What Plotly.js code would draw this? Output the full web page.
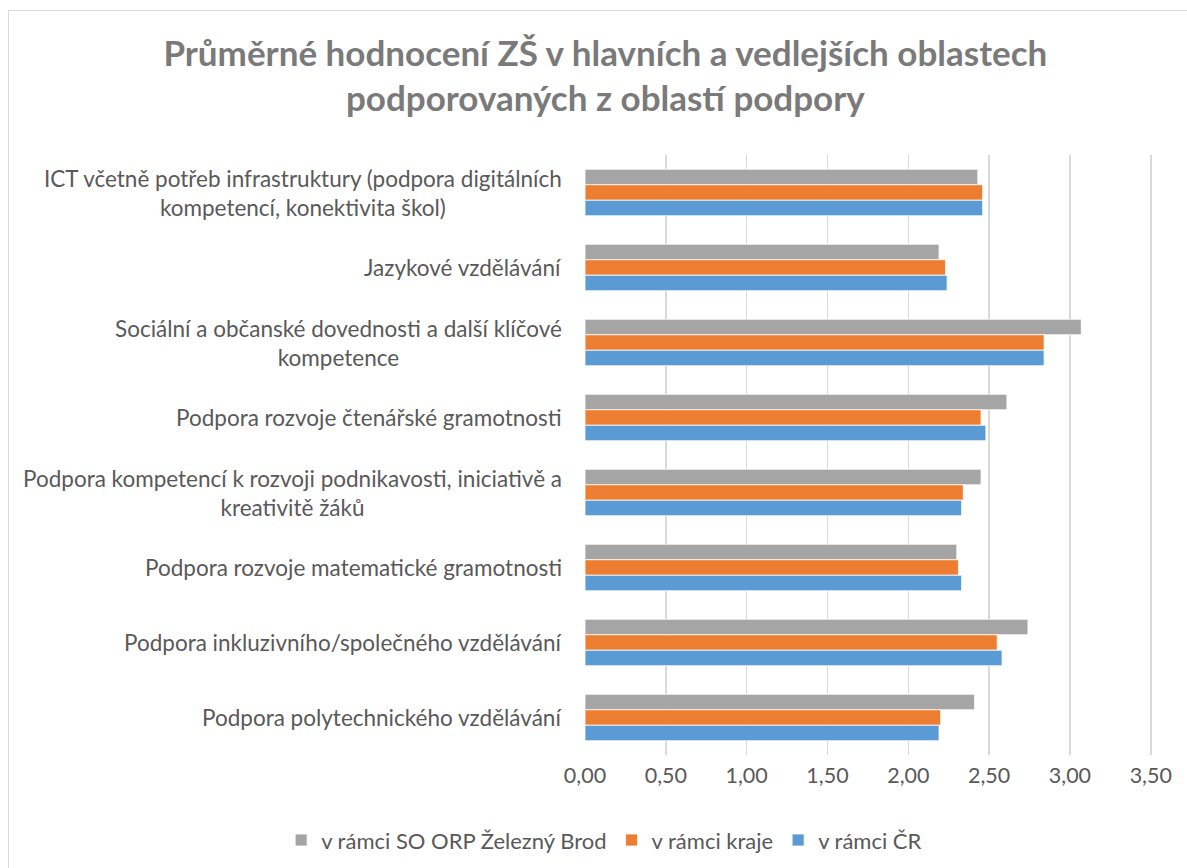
<!DOCTYPE html>
<html>
<head>
<meta charset="utf-8">
<script src="https://cdn.plot.ly/plotly-3.0.1.min.js"></script>
<style>
  html, body { margin: 0; padding: 0; background: #fff; }
  #chart { width: 1187px; height: 868px; }
  #frame { position: absolute; left: 8px; top: 10px; width: 1190px; height: 870px; border: 1px solid #d9d9d9; pointer-events: none; }
</style>
</head>
<body>
<div id="chart"></div>
<div id="frame"></div>
<script>
const categories = [
  "ICT včetně potřeb infrastruktury (podpora digitálních<br>kompetencí, konektivita škol)",
  "Jazykové vzdělávání",
  "Sociální a občanské dovednosti a další klíčové<br>kompetence",
  "Podpora rozvoje čtenářské gramotnosti",
  "Podpora kompetencí k rozvoji podnikavosti, iniciativě a<br>kreativitě žáků",
  "Podpora rozvoje matematické gramotnosti",
  "Podpora inkluzivního/společného vzdělávání",
  "Podpora polytechnického vzdělávání"
];
const seriesNames = ["v rámci SO ORP Železný Brod", "v rámci kraje", "v rámci ČR"];
const orpValues   = [2.43, 2.19, 3.07, 2.61, 2.45, 2.30, 2.74, 2.41];
const krajValues  = [2.46, 2.23, 2.84, 2.45, 2.34, 2.31, 2.55, 2.20];
const crValues    = [2.46, 2.24, 2.84, 2.48, 2.33, 2.33, 2.58, 2.19];
const xTicks = [0, 0.5, 1, 1.5, 2, 2.5, 3, 3.5];

const colors = ["#a5a5a5", "#ed7d31", "#5b9bd5"];
const values = [orpValues, krajValues, crValues];
const font = "Lato, Noto Sans, sans-serif";
const textColor = "#595959";

const traces = values.map((v, i) => ({
  type: "bar",
  orientation: "h",
  name: seriesNames[i],
  x: v,
  y: categories,
  marker: { color: colors[i], line: { color: "#ffffff", width: 0.8 } },
  hoverinfo: "x+name"
}));

const labelAnnotations = categories.map(c => ({
  text: c,
  xref: "paper", x: -0.037, xanchor: "right",
  yref: "y", y: c, yanchor: "middle",
  align: "center",
  showarrow: false,
  font: { family: font, size: 22.5, color: textColor }
}));

const layout = {
  width: 1187,
  height: 868,
  paper_bgcolor: "#ffffff",
  plot_bgcolor: "#ffffff",
  separators: ", ",
  font: { family: font, color: textColor, size: 21 },
  margin: { l: 585, r: 33, t: 155, b: 113, autoexpand: false },
  title: {
    text: "<b>Průměrné hodnocení ZŠ v hlavních a vedlejších oblastech<br>podporovaných z oblastí podpory</b>",
    font: { family: font, size: 35, color: "#7a7a7a" },
    xref: "container", x: 0.51, xanchor: "center",
    yref: "container", y: 0.924, yanchor: "top"
  },
  barmode: "group",
  bargap: 0.38,
  bargroupgap: 0,
  xaxis: {
    range: [0, 3.52],
    tickvals: xTicks,
    tickformat: ".2f",
    showgrid: true,
    gridcolor: "#d9d9d9",
    gridwidth: 1.5,
    zeroline: false,
    showline: false,
    ticks: "",
    tickfont: { size: 21.5, color: textColor },
    ticklabelstandoff: 5
  },
  yaxis: {
    autorange: "reversed",
    showgrid: false,
    zeroline: false,
    showline: false,
    ticks: "",
    showticklabels: false
  },
  annotations: labelAnnotations,
  legend: {
    orientation: "h",
    xref: "paper", x: -0.534, xanchor: "left",
    yref: "paper", y: -0.142, yanchor: "middle",
    font: { size: 22, color: textColor },
    traceorder: "normal",
    itemwidth: 30
  },
  showlegend: true
};

Plotly.newPlot("chart", traces, layout, { displayModeBar: false, staticPlot: true });
</script>
</body>
</html>
